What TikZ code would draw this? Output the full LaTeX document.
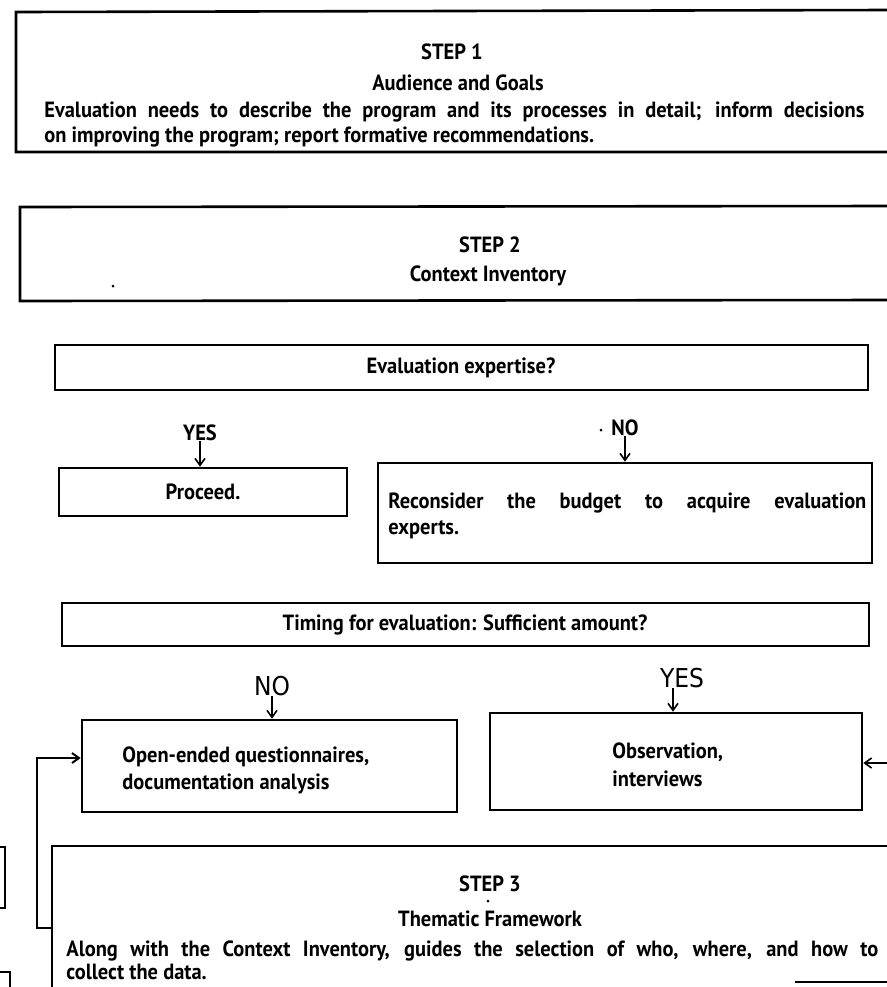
\documentclass[tikz,border=0pt]{standalone}
\usepackage{fontspec}
\setmainfont{PT Sans}[FakeStretch=0.93]
\newfontfamily\handfont{DejaVu Sans}[FakeStretch=0.9]
\usetikzlibrary{arrows.meta,fit,calc}
\begin{document}
\begin{tikzpicture}[x=0.5pt,y=-0.5pt,
  boxline/.style={line width=1.3pt, line join=miter},
  box/.style={draw, line width=1.3pt, inner sep=0pt, fit={#1}},
  txt/.style={inner sep=0pt, font=\fontsize{11}{13}\selectfont\bfseries},
  hand/.style={inner sep=0pt, font=\fontsize{13}{15}\selectfont\handfont},
  arr/.style={line width=0.8pt, -{Straight Barb[length=3.5pt,width=5pt]}},
  speck/.style={fill=black, circle, inner sep=0pt, minimum size=1.5pt}
]
\useasboundingbox (0,0) rectangle (887,987);

% STEP 1
\draw[boxline] (887,10) -- (16,12) -- (16,152) -- (887,152);
\node[txt] (s1a) at (452,52) {STEP 1};
\node[txt] (s1b) at (458,83) {Audience and Goals};
\node[txt, anchor=west] (s1c) at (44,112) {\makebox[410pt][s]{Evaluation needs to describe the program and its processes in detail; inform decisions}};
\node[txt, anchor=west] (s1d) at (44,137) {on improving the program; report formative recommendations.};

% STEP 2
\draw[boxline] (887,206) -- (20,207) -- (20,301) -- (887,300);
\node[txt] (s2a) at (490,245) {STEP 2};
\node[txt] (s2b) at (488,276) {Context Inventory};
\node[speck] (d1) at (113,286) {};

% Evaluation expertise
\node[box={(55,345) (868,390)}] (eval) {};
\node[txt] (evalt) at (461,368) {Evaluation expertise?};

\node[txt] (yes1) at (200,433) {YES};
\node[box={(59,468) (347,516)}] (proceed) {};
\node[txt] (proceedt) at (203,492) {Proceed.};
\draw[arr] (yes1.south) -- (yes1.south |- proceed.north);

\node[txt] (no1) at (625,428) {NO};
\node[speck] (d2) at (601,430) {};
\node[box={(378,463) (872,563)}] (recon) {};
\node[txt, anchor=west] (recona) at (388,503) {\makebox[239pt][s]{Reconsider the budget to acquire evaluation}};
\node[txt, anchor=west] (reconb) at (388,530) {experts.};
\draw[arr] (no1.south) -- (no1.south |- recon.north);

% Timing
\node[box={(62,603) (869,646)}] (timing) {};
\node[txt] (timingt) at (465,625) {Timing for evaluation: Sufficient amount?};

\node[hand] (no2) at (272,686) {NO};
\node[box={(82,720) (457,812)}] (open) {};
\node[txt, anchor=west] (opena) at (122,757) {Open-ended questionnaires,};
\node[txt, anchor=west] (openb) at (122,784) {documentation analysis};
\draw[arr] (no2.south) -- (no2.south |- open.north);

\node[hand] (yes2) at (682,678) {YES};
\node[box={(490,713) (862,810)}] (obs) {};
\node[txt, anchor=west] (obsa) at (612,752) {Observation,};
\node[txt, anchor=west] (obsb) at (612,779) {interviews};
\draw[arr] (yes2.south -| 673,0) -- (673,0 |- obs.north);

% right incoming arrow
\coordinate (rin) at (887,763);
\draw[arr] (rin) -- (rin -| obs.east);

% STEP 3
\draw[boxline] (887,846) -- (52,846) -- (52,987);
\node[txt] (s3a) at (490,884) {STEP 3};
\node[speck] (d3) at (488,901) {};
\node[txt] (s3b) at (490,919) {Thematic Framework};
\node[txt, anchor=west] (s3c) at (66,951) {\makebox[406pt][s]{Along with the Context Inventory, guides the selection of who, where, and how to}};
\node[txt, anchor=west] (s3d) at (66,972) {collect the data.};
\draw[line width=0.6pt] (795,982) -- (887,982);

% loop from STEP 3 to open-ended box
\coordinate (lpA) at (52,928);
\coordinate (lpB) at (37,928);
\coordinate (lpC) at (37,758);
\draw[arr, line width=1pt] (lpA) -- (lpB) -- (lpC) -- (lpC -| open.west);

% fragments at left edge
\draw[boxline] (0,847) -- (5,847) -- (5,908) -- (0,908);
\draw[boxline] (0,972) -- (10,972) -- (10,987);
\end{tikzpicture}
\end{document}
